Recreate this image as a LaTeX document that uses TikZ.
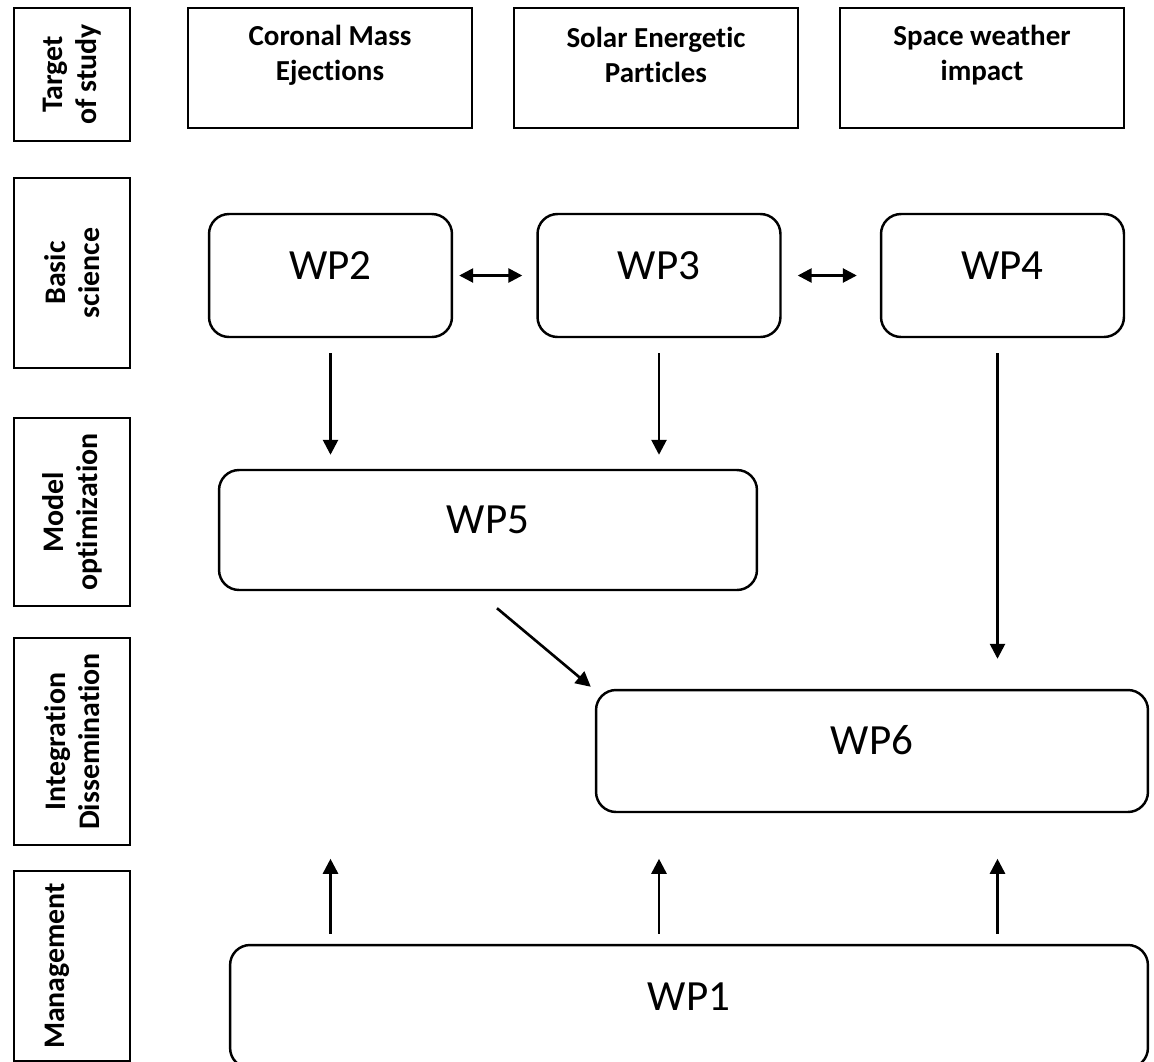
\documentclass[tikz,border=0pt]{standalone}
\usepackage{fontspec}
\setmainfont[RawFeature={-liga;-clig;-dlig}]{Carlito}
\usetikzlibrary{arrows.meta}
\usetikzlibrary{calc}

\tikzset{
  lblbox/.style={draw, line width=1.1pt, rotate=90, align=center, minimum height=2.32cm,
    inner sep=0pt, font=\fontsize{17}{19.5}\selectfont\bfseries},
  topbox/.style={draw, line width=1.1pt, minimum width=5.68cm, minimum height=2.4cm},
  toptext/.style={align=center, font=\fontsize{16.5}{20}\selectfont\bfseries},
  wpbox/.style={draw, line width=1.4pt, rounded corners=0.4cm, font=\fontsize{24.5}{28}\selectfont,
    text height=0.55cm, text depth=0.4cm},
  arr/.style={line width=1.5pt, -{Triangle[length=0.3cm,width=0.3cm]}},
  dblarr/.style={line width=1.5pt, {Triangle[length=0.28cm,width=0.28cm]}-{Triangle[length=0.28cm,width=0.28cm]}}
}

\begin{document}
\begin{tikzpicture}[x=0.02cm, y=-0.02cm]
      \useasboundingbox (0,0) rectangle (1154,1062);
      \clip (0,0) rectangle (1154,1062);

      %% Row labels
      \foreach \yc/\hgt/\txt [count=\i] in {74.5/133/{Target\\of study}, 273/190/{Basic\\science},
        512/188/{Model\\optimization}, 741.5/207/{Integration\\Dissemination}, 966/190/{Management\\{}}}
      {%
        \node[lblbox, minimum width=\hgt*0.02cm] (lbl\i) at (72,\yc) {\txt};
      }

      %% Targets of study
      \node[topbox] (cme) at (330,68) {};
      \node[toptext] (cmetxt) at (330,55) {Coronal Mass\\Ejections};
      \node[topbox] (sep) at (656,68) {};
      \node[toptext] (septxt) at (656,55) {Solar Energetic\\Particles};
      \node[topbox] (swi) at (982,68) {};
      \node[toptext] (switxt) at (982,55) {Space weather\\impact};

      %% Work packages
      \node[wpbox, minimum width=4.86cm, minimum height=2.46cm] (wp2) at (330.5,275.5) {WP2};
      \node[wpbox, minimum width=4.86cm, minimum height=2.46cm] (wp3) at (659,275.5) {WP3};
      \node[wpbox, minimum width=4.86cm, minimum height=2.46cm] (wp4) at (1002.5,275.5) {WP4};
      \node[wpbox, minimum width=10.76cm, minimum height=2.4cm] (wp5) at (488,530) {WP5};
      \node[wpbox, minimum width=11.04cm, minimum height=2.44cm] (wp6) at (872,751) {WP6};
      \node[wpbox, minimum width=18.36cm, minimum height=2.46cm] (wp1) at (689,1006.5) {WP1};

      %% Links
      \draw[dblarr, shorten <=0.12cm, shorten >=0.28cm] (wp2.east) -- (wp3.west);
      \draw[dblarr, shorten <=0.32cm, shorten >=0.46cm] (wp3.east) -- (wp4.west);
      \draw[arr, shorten <=0.3cm, shorten >=0.28cm] (wp2.south) -- (wp2.south |- wp5.north);
      \draw[arr, shorten <=0.3cm, shorten >=0.28cm] (wp3.south) -- (wp3.south |- wp5.north);
      \draw[arr, shorten <=0.3cm, shorten >=0.6cm] ([xshift=-0.1cm]wp4.south) -- ([xshift=-0.1cm]wp4.south |- wp6.north);
      \draw[arr] ([xshift=0.18cm,yshift=-0.34cm]wp5.south) -- ([xshift=-0.08cm,yshift=0.04cm]wp6.north west);
      \foreach \n/\dx in {wp2/0, wp3/0, wp4/-0.1}
      {%
        \draw[arr] ([xshift=\dx cm,yshift=0.2cm]wp1.north -| \n.south) -- ++(0,-75);
      }

    \end{tikzpicture}
\end{document}
